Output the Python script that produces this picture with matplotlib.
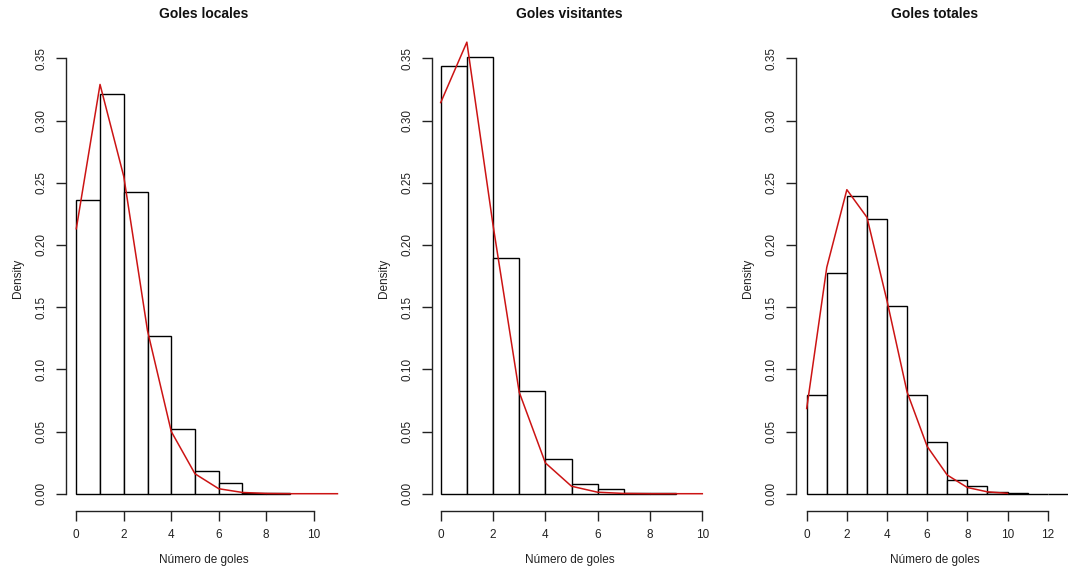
import matplotlib
matplotlib.use("Agg")
import matplotlib.pyplot as plt
import numpy as np

plt.rcParams['font.family'] = ['Liberation Sans', 'DejaVu Sans']

titles = ["Goles locales", "Goles visitantes", "Goles totales"]
xlabel = "Número de goles"
ylabel = "Density"

# histogram densities (unit-width bins starting at 0)
dens_locales = [0.2365, 0.3217, 0.2427, 0.1269, 0.0519, 0.0184, 0.0087, 0.0009, 0.0009]
dens_visitantes = [0.3439, 0.3511, 0.1895, 0.0828, 0.0280, 0.0079, 0.0035, 0.0009, 0.0009]
dens_totales = [0.0793, 0.1773, 0.2397, 0.2205, 0.1508, 0.0793, 0.0414, 0.0110,
                0.0061, 0.0014, 0.0006, 0.0, 0.0]

# fitted (Poisson) probabilities
fit_locales = [0.213, 0.329, 0.255, 0.131, 0.050, 0.016, 0.004, 0.001, 0.0002, 0.0, 0.0, 0.0]
fit_visitantes = [0.3144, 0.363, 0.216, 0.0817, 0.0248, 0.006, 0.0012, 0.0002, 0.0, 0.0, 0.0]
fit_totales = [0.0685, 0.182, 0.2444, 0.2222, 0.155, 0.0817, 0.038, 0.015, 0.005, 0.0015, 0.0003]

xticks_sets = [[0, 2, 4, 6, 8, 10], [0, 2, 4, 6, 8, 10], [0, 2, 4, 6, 8, 10, 12]]
yticks = [0.00, 0.05, 0.10, 0.15, 0.20, 0.25, 0.30, 0.35]

W, H = 1068, 569
fig = plt.figure(figsize=(W / 100, H / 100), dpi=100)

# pixel geometry per panel: (left px, x0 px, px per unit, right px)
geom = [(65.7, 76.3, 23.74, 342.0),
        (431.7, 440.7, 26.16, 707.0),
        (796.0, 806.7, 20.08, 1068.0)]
y_bottom_px, y_top_px = 511.0, 40.9
ylim = (-0.0139, 0.364)

hists = [dens_locales, dens_visitantes, dens_totales]
fits = [fit_locales, fit_visitantes, fit_totales]
red = '#CC1414'

for i in range(3):
    lpx, x0px, scale, rpx = geom[i]
    ax = fig.add_axes([lpx / W, 1 - y_bottom_px / H, (rpx - lpx) / W, (y_bottom_px - y_top_px) / H])
    ax.set_xlim((lpx - x0px) / scale, (rpx - x0px) / scale)
    ax.set_ylim(*ylim)
    dens = hists[i]
    edges = np.arange(len(dens))
    ax.bar(edges, dens, width=1.0, align='edge', facecolor='white', edgecolor='black',
           linewidth=1.0, clip_on=False)
    fx = np.arange(len(fits[i]))
    ax.plot(fx, fits[i], color=red, linewidth=1.1, clip_on=False, zorder=3)

    for s in ['top', 'right']:
        ax.spines[s].set_visible(False)
    ax.spines['left'].set_bounds(0, 0.35)
    xt = xticks_sets[i]
    ax.spines['bottom'].set_bounds(xt[0], xt[-1])
    for s in ['left', 'bottom']:
        ax.spines[s].set_linewidth(1.0)
        ax.spines[s].set_color('#222222')
    ax.set_xticks(xt)
    ax.set_xticklabels([str(v) for v in xt])
    ax.set_yticks(yticks)
    ax.set_yticklabels([f"{v:.2f}" for v in yticks], rotation=90, va='center')
    ax.tick_params(axis='both', direction='out', length=7, width=1.0, color='#222222',
                   labelsize=8.5, labelcolor='#222222')
    ax.tick_params(axis='x', pad=6)
    ax.tick_params(axis='y', pad=6)

    cx = (lpx + rpx) / 2 if i < 2 else 935.0
    fig.text(cx / W, 1 - 14.5 / H, titles[i], ha='center', va='center',
             fontsize=10, fontweight='bold', color='#111111')
    fig.text(cx / W, 1 - 560 / H, xlabel, ha='center', va='center',
             fontsize=8.5, color='#222222')
    fig.text((lpx - 48) / W, 1 - 278 / H, ylabel, ha='center', va='center',
             rotation=90, fontsize=8.5, color='#222222')

fig.savefig("out.png", dpi=100, facecolor='white')
